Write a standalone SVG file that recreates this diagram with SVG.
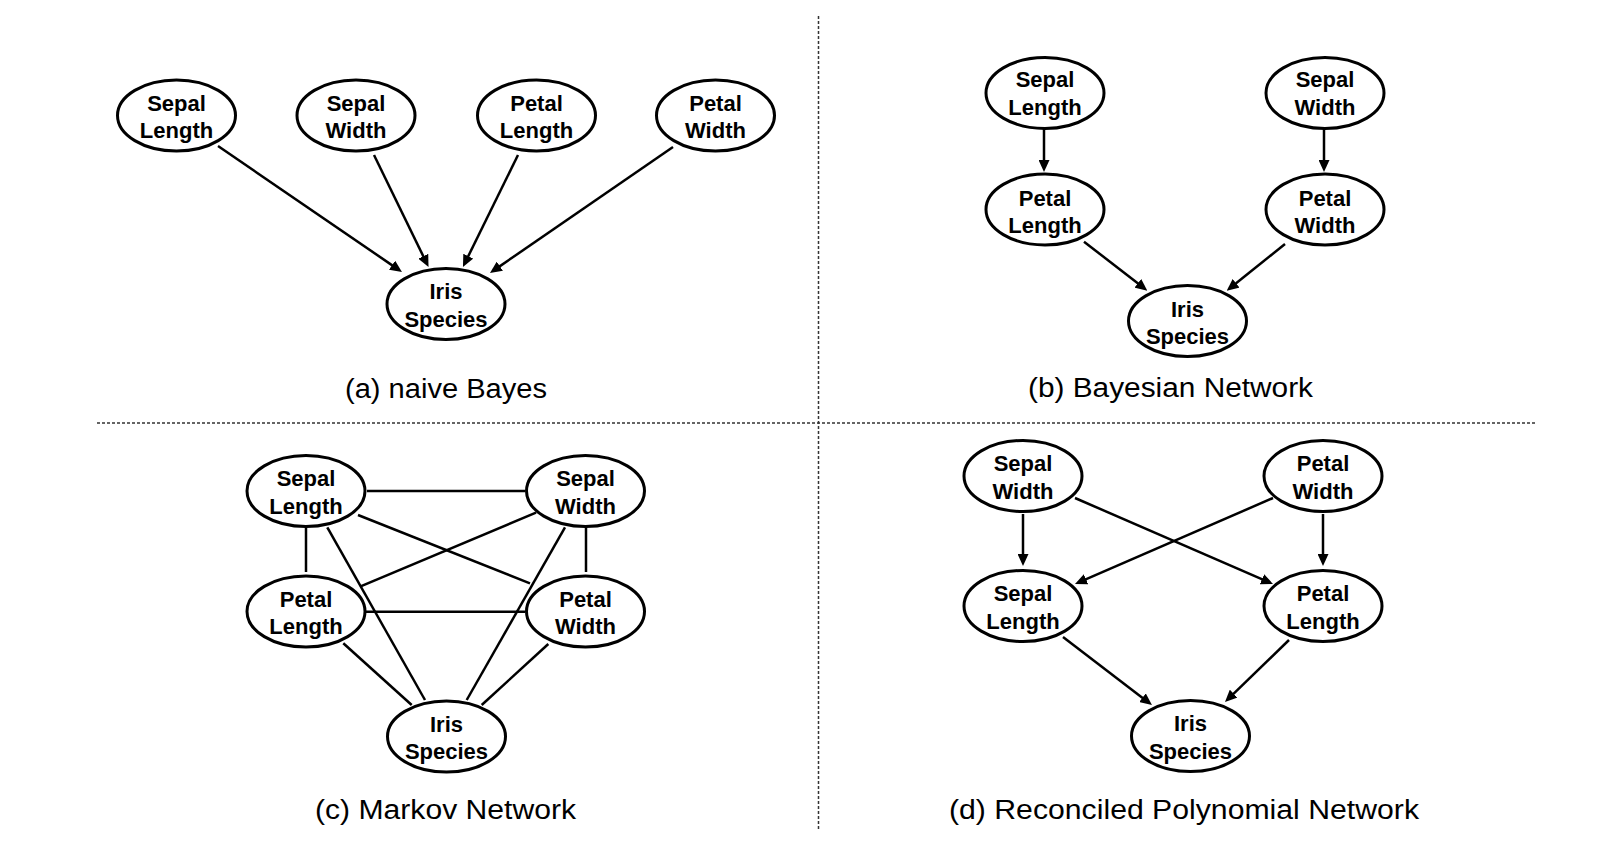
<svg xmlns="http://www.w3.org/2000/svg" width="1608" height="848" viewBox="0 0 1608 848">
<style>
.n ellipse{fill:#fff;stroke:#000;stroke-width:3}
.n text{font-family:"Liberation Sans",Arial,Helvetica,sans-serif;font-weight:bold;font-size:22px;text-anchor:middle;fill:#000}
.e line{stroke:#000;stroke-width:2.5}
.a line{marker-end:url(#arr)}
.cap{font-family:"Liberation Sans",Arial,Helvetica,sans-serif;font-size:27px;text-anchor:middle;fill:#000}
.div{stroke:#333;stroke-width:1.5;stroke-dasharray:3 2;fill:none}
</style>
<defs>
<marker id="arr" viewBox="0 0 12 11" markerWidth="12" markerHeight="11" markerUnits="userSpaceOnUse" refX="6" refY="5.5" orient="auto">
<path d="M0,0 L12,5.5 L0,11 z" fill="#000"/>
</marker>
</defs>
<rect width="1608" height="848" fill="#fff"/>
<g id="dividers">
<line class="div" x1="818.5" y1="16" x2="818.5" y2="829"/>
<line class="div" x1="97" y1="423" x2="1536" y2="423"/>
</g>
<g id="connectors" class="e">
<g class="a">
<line x1="218" y1="146" x2="397" y2="268.6"/>
<line x1="374" y1="155" x2="425.9" y2="261.6"/>
<line x1="518" y1="155" x2="465.6" y2="261.6"/>
<line x1="673" y1="147" x2="494.9" y2="269.6"/>
<line x1="1044" y1="129" x2="1044" y2="166"/>
<line x1="1324" y1="129" x2="1324" y2="166"/>
<line x1="1084" y1="241.7" x2="1142.6" y2="287"/>
<line x1="1285" y1="244" x2="1231.4" y2="287"/>
<line x1="1023" y1="514" x2="1023" y2="560"/>
<line x1="1323" y1="514" x2="1323" y2="560"/>
<line x1="1075" y1="498" x2="1267.5" y2="581.6"/>
<line x1="1273" y1="498" x2="1080.5" y2="581.6"/>
<line x1="1063" y1="637" x2="1147.2" y2="701.4"/>
<line x1="1289" y1="640" x2="1229.3" y2="697.8"/>
</g>
<line x1="367" y1="491" x2="525" y2="491"/>
<line x1="306" y1="527" x2="306" y2="572"/>
<line x1="586" y1="527" x2="586" y2="572"/>
<line x1="365" y1="611.7" x2="525" y2="611.7"/>
<line x1="358" y1="515" x2="530" y2="583.3"/>
<line x1="536" y1="512.7" x2="360" y2="586.7"/>
<line x1="327.3" y1="527.3" x2="425" y2="700"/>
<line x1="565" y1="527.3" x2="466.7" y2="700"/>
<line x1="343.3" y1="643.3" x2="411.7" y2="705"/>
<line x1="548.3" y1="644" x2="481.7" y2="705"/>
</g>
<g id="a-sepal-length" class="n"><ellipse cx="176.5" cy="115.5" rx="59" ry="35.5"/><text x="176.5" y="110.5">Sepal</text><text x="176.5" y="138">Length</text></g>
<g id="a-sepal-width" class="n"><ellipse cx="356" cy="115.5" rx="59" ry="35.5"/><text x="356" y="110.5">Sepal</text><text x="356" y="138">Width</text></g>
<g id="a-petal-length" class="n"><ellipse cx="536.5" cy="115.5" rx="59" ry="35.5"/><text x="536.5" y="110.5">Petal</text><text x="536.5" y="138">Length</text></g>
<g id="a-petal-width" class="n"><ellipse cx="715.5" cy="115.5" rx="59" ry="35.5"/><text x="715.5" y="110.5">Petal</text><text x="715.5" y="138">Width</text></g>
<g id="a-iris" class="n"><ellipse cx="446" cy="304" rx="59" ry="35.5"/><text x="446" y="299">Iris</text><text x="446" y="326.5">Species</text></g>
<g id="b-sepal-length" class="n"><ellipse cx="1045" cy="93" rx="59" ry="35.5"/><text x="1045" y="87">Sepal</text><text x="1045" y="114.5">Length</text></g>
<g id="b-sepal-width" class="n"><ellipse cx="1325" cy="93" rx="59" ry="35.5"/><text x="1325" y="87">Sepal</text><text x="1325" y="114.5">Width</text></g>
<g id="b-petal-length" class="n"><ellipse cx="1045" cy="209.5" rx="59" ry="35.5"/><text x="1045" y="205.5">Petal</text><text x="1045" y="233">Length</text></g>
<g id="b-petal-width" class="n"><ellipse cx="1325" cy="209.5" rx="59" ry="35.5"/><text x="1325" y="205.5">Petal</text><text x="1325" y="233">Width</text></g>
<g id="b-iris" class="n"><ellipse cx="1187.5" cy="321" rx="59" ry="35.5"/><text x="1187.5" y="316.5">Iris</text><text x="1187.5" y="344">Species</text></g>
<g id="c-sepal-length" class="n"><ellipse cx="306" cy="491" rx="59" ry="35.5"/><text x="306" y="486">Sepal</text><text x="306" y="513.5">Length</text></g>
<g id="c-sepal-width" class="n"><ellipse cx="585.5" cy="491" rx="59" ry="35.5"/><text x="585.5" y="486">Sepal</text><text x="585.5" y="513.5">Width</text></g>
<g id="c-petal-length" class="n"><ellipse cx="306" cy="611.5" rx="59" ry="35.5"/><text x="306" y="606.5">Petal</text><text x="306" y="634">Length</text></g>
<g id="c-petal-width" class="n"><ellipse cx="585.5" cy="611.5" rx="59" ry="35.5"/><text x="585.5" y="606.5">Petal</text><text x="585.5" y="634">Width</text></g>
<g id="c-iris" class="n"><ellipse cx="446.5" cy="736.5" rx="59" ry="35.5"/><text x="446.5" y="731.5">Iris</text><text x="446.5" y="759">Species</text></g>
<g id="d-sepal-width" class="n"><ellipse cx="1023" cy="476" rx="59" ry="35.5"/><text x="1023" y="471">Sepal</text><text x="1023" y="498.5">Width</text></g>
<g id="d-petal-width" class="n"><ellipse cx="1323" cy="476" rx="59" ry="35.5"/><text x="1323" y="471">Petal</text><text x="1323" y="498.5">Width</text></g>
<g id="d-sepal-length" class="n"><ellipse cx="1023" cy="606" rx="59" ry="35.5"/><text x="1023" y="601">Sepal</text><text x="1023" y="628.5">Length</text></g>
<g id="d-petal-length" class="n"><ellipse cx="1323" cy="606" rx="59" ry="35.5"/><text x="1323" y="601">Petal</text><text x="1323" y="628.5">Length</text></g>
<g id="d-iris" class="n"><ellipse cx="1190.5" cy="736" rx="59" ry="35.5"/><text x="1190.5" y="731">Iris</text><text x="1190.5" y="758.5">Species</text></g>
<g id="captions">
<text class="cap" x="446" y="398" textLength="202" lengthAdjust="spacingAndGlyphs">(a) naive Bayes</text>
<text class="cap" x="1170.5" y="397" textLength="285" lengthAdjust="spacingAndGlyphs">(b) Bayesian Network</text>
<text class="cap" x="445.5" y="819" textLength="261" lengthAdjust="spacingAndGlyphs">(c) Markov Network</text>
<text class="cap" x="1184" y="819" textLength="470" lengthAdjust="spacingAndGlyphs">(d) Reconciled Polynomial Network</text>
</g>
</svg>
